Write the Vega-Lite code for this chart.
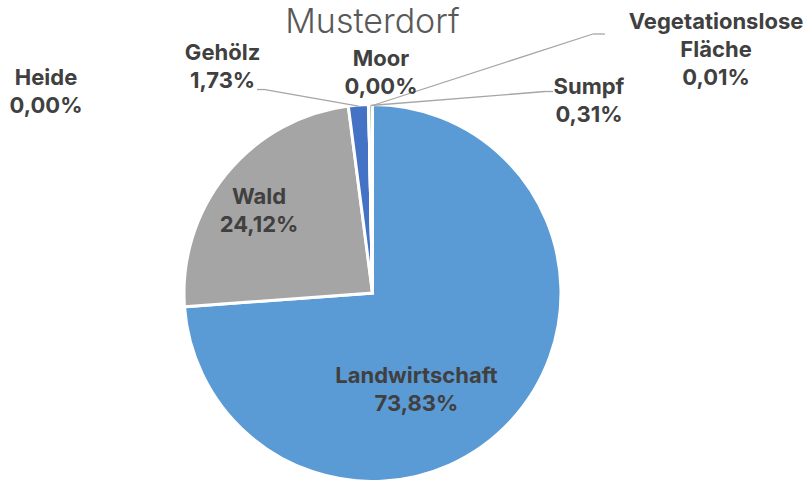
{
  "$schema": "https://vega.github.io/schema/vega-lite/v6.json",
  "width": 805,
  "height": 480,
  "padding": 0,
  "autosize": {"type": "none"},
  "background": "white",
  "title": {"text": "Musterdorf", "font": "Inter", "fontSize": 34, "fontWeight": 300, "color": "#595959", "anchor": "middle", "frame": "group", "dx": -30, "offset": -40},
  "config": {"view": {"stroke": null}},
  "data": {"values": [
    {"name": "Landwirtschaft", "value": 73.83},
    {"name": "Wald", "value": 24.12},
    {"name": "Gehölz", "value": 1.73},
    {"name": "Heide", "value": 0},
    {"name": "Moor", "value": 0},
    {"name": "Sumpf", "value": 0.31},
    {"name": "Vegetationslose Fläche", "value": 0.01}
  ]},
  "transform": [
    {"window": [{"op": "sum", "field": "value", "as": "cum"}], "frame": [null, 0]},
    {"calculate": "datum.cum - datum.value", "as": "start"},
    {"calculate": "(datum.cum - datum.value / 2) * PI / 50", "as": "ang"},
    {"calculate": "187.5 * sin(datum.ang)", "as": "ax"},
    {"calculate": "187.5 * cos(datum.ang)", "as": "ay"},
    {"calculate": "replace(datum.name, ' ', '\\n') + '\\n' + replace(format(datum.value, '.2f'), '.', ',') + '%'", "as": "label"}
  ],
  "encoding": {
    "x": {"field": "ax", "type": "quantitative", "scale": {"domain": [-372.5, 432.5], "nice": false, "zero": false}, "axis": null},
    "y": {"field": "ay", "type": "quantitative", "scale": {"domain": [-187, 293], "nice": false, "zero": false}, "axis": null}
  },
  "layer": [
    {
      "mark": {"type": "arc", "outerRadius": 188.5, "stroke": "white", "strokeWidth": 3},
      "encoding": {
        "x": {"datum": 0, "type": "quantitative"},
        "y": {"datum": 0, "type": "quantitative"},
        "theta": {"field": "start", "type": "quantitative", "scale": {"domain": [0, 100]}},
        "theta2": {"field": "cum"},
        "color": {"field": "name", "type": "nominal", "legend": null,
          "scale": {"domain": ["Landwirtschaft", "Wald", "Gehölz", "Heide", "Moor", "Sumpf", "Vegetationslose Fläche"],
                    "range": ["#5B9BD5", "#A5A5A5", "#4472C4", "#FFC000", "#ED7D31", "#70AD47", "#255E91"]}}
      }
    },
    {"transform": [{"filter": "datum.name == 'Gehölz'"}], "mark": {"type": "rule", "color": "#A6A6A6", "strokeWidth": 1.3, "x2Offset": -93.5, "y2Offset": -16.5}, "encoding": {"x2": {"field": "ax"}, "y2": {"field": "ay"}}},
    {"transform": [{"filter": "datum.name == 'Gehölz'"}], "mark": {"type": "rule", "color": "#A6A6A6", "strokeWidth": 1.3, "xOffset": -93.5, "yOffset": -16.5, "x2Offset": -101.5, "y2Offset": -16.5}, "encoding": {"x2": {"field": "ax"}, "y2": {"field": "ay"}}},
    {"transform": [{"filter": "datum.name == 'Sumpf'"}], "mark": {"type": "rule", "color": "#A6A6A6", "strokeWidth": 1.3, "x2Offset": 174.5, "y2Offset": -14}, "encoding": {"x2": {"field": "ax"}, "y2": {"field": "ay"}}},
    {"transform": [{"filter": "datum.name == 'Sumpf'"}], "mark": {"type": "rule", "color": "#A6A6A6", "strokeWidth": 1.3, "xOffset": 174.5, "yOffset": -14, "x2Offset": 182.5, "y2Offset": -14}, "encoding": {"x2": {"field": "ax"}, "y2": {"field": "ay"}}},
    {"transform": [{"filter": "datum.name == 'Vegetationslose Fläche'"}], "mark": {"type": "rule", "color": "#A6A6A6", "strokeWidth": 1.3, "x2Offset": 220.5, "y2Offset": -71.5}, "encoding": {"x2": {"field": "ax"}, "y2": {"field": "ay"}}},
    {"transform": [{"filter": "datum.name == 'Vegetationslose Fläche'"}], "mark": {"type": "rule", "color": "#A6A6A6", "strokeWidth": 1.3, "xOffset": 220.5, "yOffset": -71.5, "x2Offset": 232.5, "y2Offset": -71.5}, "encoding": {"x2": {"field": "ax"}, "y2": {"field": "ay"}}},
    {"transform": [{"filter": "datum.name == 'Landwirtschaft'"}], "mark": {"type": "text", "font": "Inter", "fontWeight": "bold", "fontSize": 22, "lineHeight": 28, "lineBreak": "\n", "color": "#404040", "align": "center", "baseline": "middle", "dx": -93.4, "dy": -44.6}, "encoding": {"text": {"field": "label"}}},
    {"transform": [{"filter": "datum.name == 'Wald'"}], "mark": {"type": "text", "font": "Inter", "fontWeight": "bold", "fontSize": 22, "lineHeight": 28, "lineBreak": "\n", "color": "#404040", "align": "center", "baseline": "middle", "dx": 31.8, "dy": 22.5}, "encoding": {"text": {"field": "label"}}},
    {"transform": [{"filter": "datum.name == 'Gehölz'"}], "mark": {"type": "text", "font": "Inter", "fontWeight": "bold", "fontSize": 22, "lineHeight": 28, "lineBreak": "\n", "color": "#404040", "align": "center", "baseline": "middle", "dx": -136, "dy": -53}, "encoding": {"text": {"field": "label"}}},
    {"transform": [{"filter": "datum.name == 'Heide'"}], "mark": {"type": "text", "font": "Inter", "fontWeight": "bold", "fontSize": 22, "lineHeight": 28, "lineBreak": "\n", "color": "#404040", "align": "center", "baseline": "middle", "dx": -322.7, "dy": -28}, "encoding": {"text": {"field": "label"}}},
    {"transform": [{"filter": "datum.name == 'Moor'"}], "mark": {"type": "text", "font": "Inter", "fontWeight": "bold", "fontSize": 22, "lineHeight": 28, "lineBreak": "\n", "color": "#404040", "align": "center", "baseline": "middle", "dx": 12.3, "dy": -46.5}, "encoding": {"text": {"field": "label"}}},
    {"transform": [{"filter": "datum.name == 'Sumpf'"}], "mark": {"type": "text", "font": "Inter", "fontWeight": "bold", "fontSize": 22, "lineHeight": 28, "lineBreak": "\n", "color": "#404040", "align": "center", "baseline": "middle", "dx": 218.4, "dy": -19}, "encoding": {"text": {"field": "label"}}},
    {"transform": [{"filter": "datum.name == 'Vegetationslose Fläche'"}], "mark": {"type": "text", "font": "Inter", "fontWeight": "bold", "fontSize": 22, "lineHeight": 28, "lineBreak": "\n", "color": "#404040", "align": "center", "baseline": "middle", "dx": 343.6, "dy": -84}, "encoding": {"text": {"field": "label"}}}
  ]
}
